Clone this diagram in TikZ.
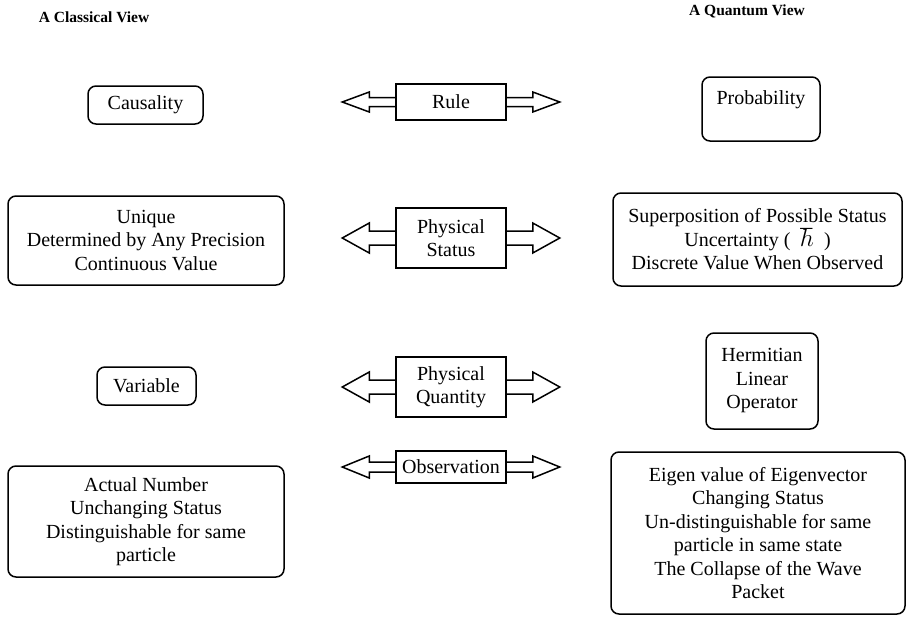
\documentclass[tikz,border=0pt]{standalone}
\usepackage{fontspec}
\setmainfont{Liberation Serif}
\usepackage{amsmath}
\usepackage{tikz}

\tikzset{
  view/.style={draw, rounded corners=8pt, line width=1.5pt, align=center, inner sep=0pt,
    font=\fontsize{20}{23.5}\selectfont},
  link/.style={draw, line width=1.5pt, align=center, inner sep=0pt, minimum width=110pt,
    font=\fontsize{20}{23.5}\selectfont},
  hollow/.style={line width=1.5pt, line join=miter},
  heading/.style={font=\fontsize{15.5}{18}\selectfont\bfseries}
}

\newcommand{\twoway}[3]{%
  \draw[hollow] (#1.west) ++(0,-#2) -- ++(-26,0) -- ++(0,#2-#3) -- ++(-27,#3) -- ++(27,#3) -- ++(0,#2-#3) -- ++(26,0);
  \draw[hollow] (#1.east) ++(0,-#2) -- ++(26,0) -- ++(0,#2-#3) -- ++(27,#3) -- ++(-27,#3) -- ++(0,#2-#3) -- ++(-26,0);
}

\begin{document}
\begin{tikzpicture}[x=1pt, y=-1pt]
  \useasboundingbox (0,0) rectangle (907,616);

  \node[heading] (classical) at (94,17) {A Classical View};
  \node[heading] (quantum) at (747,11) {A Quantum View};

  \node[view, minimum width=115pt, minimum height=38pt] (causality) at (145.5,105) {Causality};
  \node[view, minimum width=276pt, minimum height=89pt] (unique) at (146,240.5) {Unique\\Determined by Any Precision\\Continuous Value};
  \node[view, minimum width=99pt, minimum height=38pt] (variable) at (146.5,386) {Variable};
  \node[view, minimum width=276pt, minimum height=111pt] (actual) at (146,521.5) {Actual Number\\Unchanging Status\\Distinguishable for same\\particle};

  \node[view, minimum width=118pt, minimum height=64pt] (probability) at (761,109) {Probability\\~};
  \node[view, minimum width=289pt, minimum height=93pt] (superposition) at (757.5,239.5) {Superposition of Possible Status\\Uncertainty (~~{\fontsize{24}{23.5}\selectfont$\hbar$}~~)\\Discrete Value When Observed};
  \node[view, minimum width=112pt, minimum height=96pt] (hermitian) at (762,381) {Hermitian\\Linear\\Operator};
  \node[view, minimum width=294pt, minimum height=162pt] (eigen) at (758,533) {Eigen value of Eigenvector\\Changing Status\\Un-distinguishable for same\\particle in same state\\The Collapse of the Wave\\Packet};

  \node[link, minimum height=36pt] (rule) at (451,102) {Rule};
  \node[link, minimum height=60pt] (status) at (451,238) {Physical\\Status};
  \node[link, minimum height=60pt] (quantity) at (451,387) {Physical\\Quantity};
  \node[link, minimum height=32pt] (observation) at (451,467) {Observation};

  \twoway{rule}{4.5}{10}
  \twoway{status}{7}{15}
  \twoway{quantity}{7}{15}
  \twoway{observation}{5}{11}
\end{tikzpicture}
\end{document}
